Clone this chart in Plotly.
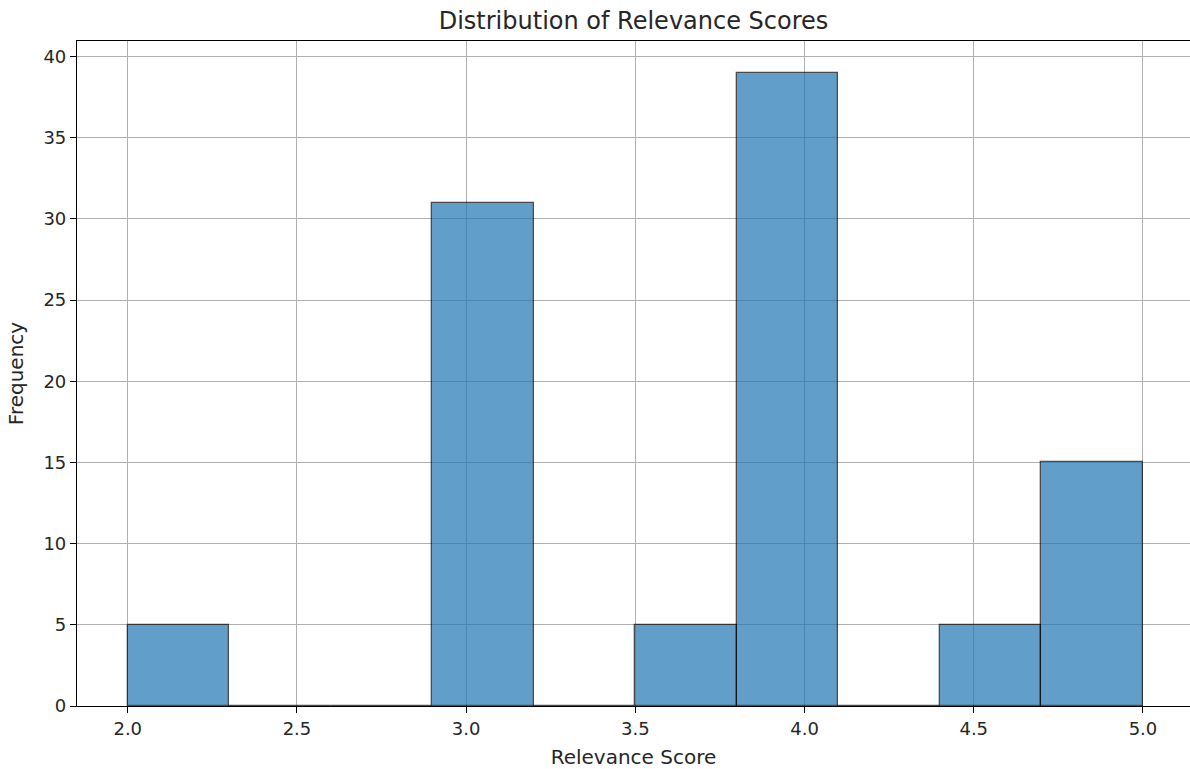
import plotly.graph_objects as go

bin_edges = [2.0, 2.3, 2.6, 2.9, 3.2, 3.5, 3.8, 4.1, 4.4, 4.7, 5.0]
counts = [5, 0, 0, 31, 0, 5, 39, 0, 5, 15]
x_ticks = [2.0, 2.5, 3.0, 3.5, 4.0, 4.5, 5.0]
x_tick_labels = ["2.0", "2.5", "3.0", "3.5", "4.0", "4.5", "5.0"]
y_ticks = [0, 5, 10, 15, 20, 25, 30, 35, 40]

centers = [(a + b) / 2 for a, b in zip(bin_edges[:-1], bin_edges[1:])]
widths = [b - a for a, b in zip(bin_edges[:-1], bin_edges[1:])]

FONT = "DejaVu Sans"
TXT = "#262626"

fig = go.Figure(go.Bar(
    x=centers, y=counts, width=widths,
    marker=dict(color="#1f77b4", opacity=0.7, line=dict(color="black", width=1.3)),
))

fig.update_layout(
    width=1190, height=769,
    margin=dict(l=77, r=0, t=41, b=63, autoexpand=False),
    paper_bgcolor="white", plot_bgcolor="white",
    showlegend=False,
    font=dict(family=FONT, size=18, color=TXT),
    title=dict(text="Distribution of Relevance Scores", x=0.5, xref="paper",
               y=1 - 21 / 769, yanchor="middle", xanchor="center",
               font=dict(family=FONT, size=24, color=TXT)),
    bargap=0,
)
fig.update_xaxes(
    automargin=False,
    range=[1.85, 1.85 + 1113 / 338.4],
    tickvals=x_ticks, ticktext=x_tick_labels,
    showgrid=True, gridcolor="#b0b0b0", gridwidth=1.1,
    showline=True, linecolor="black", linewidth=1.2, mirror=True,
    ticks="outside", ticklen=6, tickwidth=1.2, tickcolor="black",
    tickfont=dict(family=FONT, size=18, color=TXT),
    title=dict(text="Relevance Score", font=dict(family=FONT, size=20, color=TXT), standoff=12),
    zeroline=False,
)
fig.update_yaxes(
    automargin=False,
    range=[0, 40.95],
    tickvals=y_ticks,
    showgrid=True, gridcolor="#b0b0b0", gridwidth=1.1,
    showline=True, linecolor="black", linewidth=1.2,
    ticks="outside", ticklen=6, tickwidth=1.2, tickcolor="black",
    tickfont=dict(family=FONT, size=18, color=TXT),
    title=dict(text="Frequency", font=dict(family=FONT, size=20, color=TXT), standoff=14),
    zeroline=False,
)

fig.write_html("out.html", config={"displayModeBar": False},
               post_script="document.body.style.margin='0';document.body.style.overflow='hidden';")
